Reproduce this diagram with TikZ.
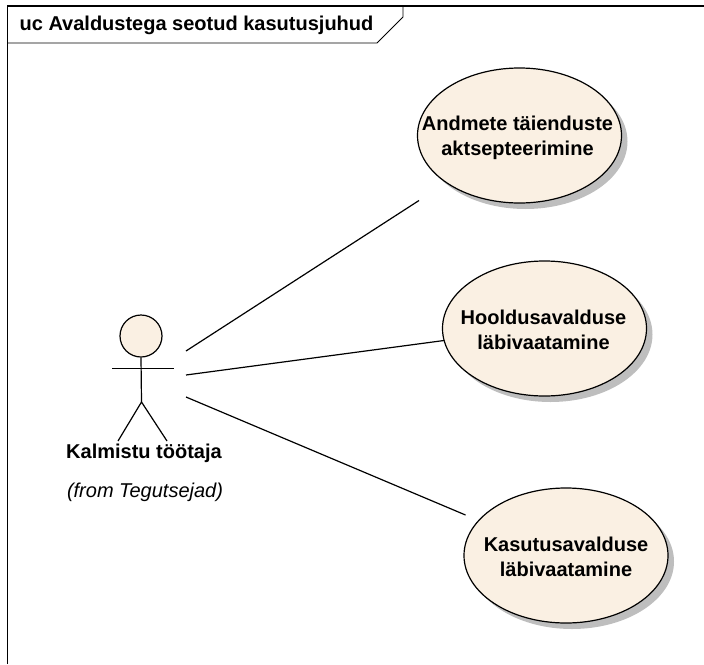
\documentclass[tikz,border=0pt]{standalone}
\usepackage{fontspec}
\setmainfont{Liberation Sans}
\usetikzlibrary{shapes.geometric}
\definecolor{ucfill}{RGB}{250,240,227}
\definecolor{ucshadow}{RGB}{190,190,190}
\tikzset{
  x=1pt,y=-1pt,
  usecase/.style={ellipse,draw=black,line width=1.2pt,fill=ucfill,minimum width=204pt,minimum height=135pt,inner sep=0pt},
  usecasetext/.style={align=center,inner sep=0pt,font=\fontsize{20}{25}\selectfont\bfseries},
  usecaseshadow/.style={ellipse,fill=ucshadow,minimum width=204pt,minimum height=135pt,inner sep=0pt},
  assoc/.style={line width=1.2pt},
  framerule/.style={line width=1.1pt},
  tabrule/.style={line width=0.8pt},
  boldlabel/.style={font=\fontsize{20}{25}\selectfont\bfseries,inner sep=0pt},
}
\begin{document}
\begin{tikzpicture}
\useasboundingbox (0,0) rectangle (704,664);
\draw[framerule] (7.5,664) -- (7.5,6) -- (704,6);
\draw[tabrule] (7.5,43) -- (377,43) -- (403,17) -- (403,6);
\node[boldlabel,anchor=center] (title) at (196.5,25) {uc Avaldustega seotud kasutusjuhud};
\node[usecaseshadow] (s1) at (525.5,141.5) {};
\node[usecaseshadow] (s2) at (550.5,334.5) {};
\node[usecaseshadow] (s3) at (572,561.5) {};
\node[usecase] (u1) at (519.5,135.5) {};
\node[usecase] (u2) at (544.5,328.5) {};
\node[usecase] (u3) at (566,555.5) {};
\node[usecasetext] (t1) at (517.5,137.5) {Andmete täienduste\\aktsepteerimine};
\node[usecasetext] (t2) at (543.5,329.5) {Hooldusavalduse\\läbivaatamine};
\node[usecasetext] (t3) at (566,556.5) {Kasutusavalduse\\läbivaatamine};
\node[circle,draw=black,line width=1.2pt,fill=ucfill,minimum size=42pt,inner sep=0pt] (head) at (141,336) {};
\coordinate (hip) at (141.5,402);
\coordinate (armL) at (112,368.4);
\coordinate (armR) at (174,368.4);
\coordinate (footL) at (118,441);
\coordinate (footR) at (167,441);
\draw[assoc] (head.south) -- (hip);
\draw[assoc] (armL) -- (armR);
\draw[assoc] (footL) -- (hip) -- (footR);
\node[boldlabel] (name) at (144,453) {Kalmistu töötaja};
\node[font=\fontsize{20}{25}\selectfont\itshape,inner sep=0pt] (from) at (145,492) {(from Tegutsejad)};
\coordinate (a1) at (186,351);
\coordinate (a2) at (186,375);
\coordinate (a3) at (186,397);
\coordinate (b1) at (419,200.5);
\coordinate (b2) at (444,340.5);
\coordinate (b3) at (465.5,515);
\draw[assoc] (a1) -- (b1);
\draw[assoc] (a2) -- (b2);
\draw[assoc] (a3) -- (b3);
\end{tikzpicture}
\end{document}
